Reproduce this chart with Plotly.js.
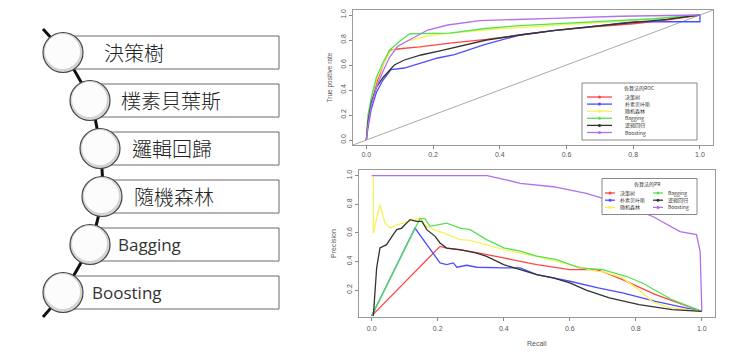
<!DOCTYPE html>
<html><head><meta charset="utf-8">
<script src="https://cdn.plot.ly/plotly-3.0.1.min.js"></script>
<style>html,body{margin:0;padding:0;background:#fff;}#chart{width:750px;height:352px;}</style>
</head><body><div id="chart"></div>
<script>
// ---------- data ----------
const methods = ['決策樹','樸素貝葉斯','邏輯回歸','隨機森林','Bagging','Boosting'];
const models = ['决策树','朴素贝叶斯','随机森林','Bagging','逻辑回归','Boosting'];
const axisTicks = [0,0.2,0.4,0.6,0.8,1.0];
const axisTickText = ['0.0','0.2','0.4','0.6','0.8','1.0'];
const prYTicks = [0.2,0.4,0.6,0.8,1.0];
const prYTickText = ['0.2','0.4','0.6','0.8','1.0'];
const diagX = [-0.04,1.04];
const diagY = [-0.04,1.04];

// ROC curves (FPR, TPR)
const rocDtFpr = [0,0.005,0.015,0.03,0.05,0.07,0.1,0.16,0.25,0.36,0.46,0.56,0.68,0.8,0.9,1];
const rocDtTpr = [0,0.15,0.3,0.45,0.6,0.72,0.73,0.745,0.775,0.805,0.84,0.875,0.905,0.93,0.96,1];
const rocNbFpr = [0,0.005,0.015,0.03,0.05,0.074,0.114,0.164,0.214,0.264,0.354,0.46,0.56,0.7,0.8,1,1];
const rocNbTpr = [0,0.1,0.25,0.38,0.48,0.563,0.576,0.616,0.656,0.683,0.763,0.84,0.875,0.915,0.946,0.946,1];
const rocRfFpr = [0,0.005,0.015,0.03,0.05,0.07,0.09,0.12,0.18,0.25,0.4,0.6,0.8,1];
const rocRfTpr = [0,0.18,0.32,0.48,0.6,0.7,0.74,0.79,0.83,0.855,0.89,0.925,0.955,1];
const rocBagFpr = [0,0.005,0.015,0.03,0.05,0.07,0.1,0.13,0.25,0.35,0.46,0.66,0.86,1];
const rocBagTpr = [0,0.2,0.34,0.5,0.62,0.72,0.79,0.85,0.855,0.89,0.915,0.94,0.97,1];
const rocLrFpr = [0,0.005,0.015,0.03,0.05,0.07,0.084,0.114,0.164,0.224,0.294,0.36,0.46,0.56,0.76,0.9,1];
const rocLrTpr = [0,0.15,0.3,0.42,0.5,0.56,0.6,0.64,0.68,0.715,0.757,0.8,0.84,0.875,0.93,0.965,1];
const rocBoFpr = [0,0.005,0.015,0.03,0.05,0.069,0.094,0.129,0.184,0.244,0.34,0.56,0.76,1];
const rocBoTpr = [0,0.12,0.28,0.42,0.55,0.66,0.75,0.80,0.88,0.92,0.955,0.973,0.99,1];

// PR curves (Recall, Precision)
const prDtRec = [0,0.207,0.227,0.298,0.4,0.5,0.6,0.68,0.70,0.76,0.86,1];
const prDtPre = [0.02,0.506,0.494,0.471,0.425,0.378,0.343,0.343,0.33,0.273,0.168,0.052];
const prNbRec = [0,0.131,0.207,0.227,0.247,0.258,0.288,0.318,0.4,0.45,0.5,0.6,0.686,0.76,0.86,1];
const prNbPre = [0.02,0.634,0.39,0.378,0.39,0.36,0.374,0.36,0.355,0.355,0.308,0.262,0.215,0.18,0.122,0.052];
const prRfRec = [0.005,0.005,0.025,0.04,0.055,0.076,0.116,0.146,0.166,0.217,0.268,0.298,0.4,0.5,0.6,0.68,0.70,0.76,0.81,0.85,0.9,1];
const prRfPre = [1.0,0.6,0.797,0.67,0.634,0.657,0.681,0.704,0.646,0.6,0.553,0.548,0.483,0.436,0.378,0.331,0.33,0.285,0.2,0.12,0.08,0.052];
const prBagRec = [0,0.131,0.146,0.161,0.177,0.227,0.268,0.298,0.348,0.4,0.45,0.5,0.56,0.63,0.68,0.70,0.77,0.82,0.91,1];
const prBagPre = [0.02,0.634,0.70,0.70,0.646,0.669,0.634,0.623,0.553,0.495,0.472,0.437,0.413,0.355,0.343,0.343,0.297,0.25,0.133,0.052];
const prLrRec = [0.005,0.015,0.025,0.045,0.065,0.076,0.091,0.116,0.136,0.152,0.167,0.192,0.207,0.227,0.268,0.318,0.348,0.4,0.45,0.5,0.55,0.6,0.65,0.72,0.81,0.91,1];
const prLrPre = [0.02,0.355,0.495,0.518,0.588,0.623,0.634,0.693,0.681,0.681,0.623,0.576,0.53,0.494,0.483,0.459,0.436,0.378,0.343,0.308,0.285,0.25,0.2,0.145,0.098,0.063,0.052];
const prBoRec = [0,0.35,0.41,0.45,0.55,0.65,0.75,0.853,0.934,0.984,0.995,1];
const prBoPre = [1.0,1.0,0.97,0.947,0.923,0.877,0.807,0.713,0.609,0.588,0.47,0.052];

// ---------- styles / layout ----------
const W = 750, H = 352;
const colors = ['#ff4545','#4d4dff','#f7f25a','#55e255','#333333','#b070f0'];
const px = x => x / W;
const py = y => 1 - y / H;

const roc = [[rocDtFpr,rocDtTpr],[rocNbFpr,rocNbTpr],[rocRfFpr,rocRfTpr],[rocBagFpr,rocBagTpr],[rocLrFpr,rocLrTpr],[rocBoFpr,rocBoTpr]];
const pr = [[prDtRec,prDtPre],[prNbRec,prNbPre],[prRfRec,prRfPre],[prBagRec,prBagPre],[prLrRec,prLrPre],[prBoRec,prBoPre]];

const traces = [];
traces.push({x: diagX, y: diagY, xaxis:'x', yaxis:'y', mode:'lines', line:{color:'#aaaaaa', width:1}, showlegend:false, hoverinfo:'skip'});
roc.forEach((d,i) => traces.push({x:d[0], y:d[1], xaxis:'x', yaxis:'y', mode:'lines', name:models[i], line:{color:colors[i], width:1.3}, showlegend:false}));
pr.forEach((d,i) => traces.push({x:d[0], y:d[1], xaxis:'x2', yaxis:'y2', mode:'lines', name:models[i], line:{color:colors[i], width:1.3}, showlegend:false}));

// diagram geometry
const rowY0 = 52.5, rowStep = 48, rowHalf = 16.5, rectRight = 279, circR = 20;
const circX = [63,90,100,102,90,63];
const textX = [102,119,130,132,116,90];
const pathX = [43].concat(circX).concat([43]);
const pathY = [29].concat(methods.map((m,i)=>rowY0+i*rowStep)).concat([317]);
traces.push({x: pathX, y: pathY, xaxis:'x3', yaxis:'y3', mode:'lines', line:{color:'#111', width:3, shape:'spline', smoothing:0.8}, showlegend:false, hoverinfo:'skip'});

const shapes = [], annotations = [];
methods.forEach((m,i) => {
  const cy = rowY0 + i*rowStep;
  shapes.push({type:'rect', xref:'x3', yref:'y3', x0:circX[i], x1:rectRight, y0:cy-rowHalf, y1:cy+rowHalf, line:{color:'#6a6a6a', width:1}, fillcolor:'#ffffff'});
});
methods.forEach((m,i) => {
  const cy = rowY0 + i*rowStep;
  shapes.push({type:'circle', xref:'x3', yref:'y3', x0:circX[i]-circR, x1:circX[i]+circR, y0:cy-circR, y1:cy+circR, line:{width:0}, fillcolor:'#d4d4d4'});
  shapes.push({type:'circle', xref:'x3', yref:'y3', x0:circX[i]-circR+2, x1:circX[i]+circR-3, y0:cy-circR+1.5, y1:cy+circR-3.5, line:{width:0}, fillcolor:'#fcfcfc'});
  shapes.push({type:'circle', xref:'x3', yref:'y3', x0:circX[i]-circR, x1:circX[i]+circR, y0:cy-circR, y1:cy+circR, line:{color:'#444', width:1.2}, fillcolor:'rgba(0,0,0,0)'});
  const latin = /^[A-Za-z]/.test(m);
  annotations.push({xref:'x3', yref:'y3', x:textX[i], y:cy, text:m, showarrow:false, xanchor:'left', yanchor:'middle',
    font: latin ? {family:'Open Sans', size:17, color:'#333'} : {family:'Noto Sans CJK TC', size:20, color:'#222', weight:300}});
});

const legFont = {family:'Noto Sans CJK SC', size:5, color:'#333'};
// ROC legend (drawn manually, compact like R)
shapes.push({type:'rect', xref:'paper', yref:'paper', x0:px(582), x1:px(697), y0:py(140), y1:py(83), line:{color:'#888', width:1}, fillcolor:'#ffffff'});
annotations.push({xref:'paper', yref:'paper', x:px(639), y:py(88), text:'各算法的ROC', showarrow:false, xanchor:'center', yanchor:'middle', font:legFont});
models.forEach((m,i) => {
  const yy = 97 + i*7.1;
  shapes.push({type:'line', xref:'paper', yref:'paper', x0:px(587), x1:px(612), y0:py(yy), y1:py(yy), line:{color:colors[i], width:1.3}});
  shapes.push({type:'circle', xref:'paper', yref:'paper', x0:px(598), x1:px(601), y0:py(yy+1.5), y1:py(yy-1.5), line:{width:0}, fillcolor:colors[i]});
  annotations.push({xref:'paper', yref:'paper', x:px(623), y:py(yy), text:m, showarrow:false, xanchor:'left', yanchor:'middle', font:legFont});
});

// PR legend (two columns)
shapes.push({type:'rect', xref:'paper', yref:'paper', x0:px(602), x1:px(697), y0:py(214.5), y1:py(178.5), line:{color:'#888', width:1}, fillcolor:'#ffffff'});
annotations.push({xref:'paper', yref:'paper', x:px(647), y:py(184), text:'各算法的PR', showarrow:false, xanchor:'center', yanchor:'middle', font:legFont});
models.forEach((m,i) => {
  const col = Math.floor(i/3), row = i%3;
  const yy = 193 + row*7.2;
  const lx0 = col ? 653 : 605, lx1 = col ? 663 : 615, tx = col ? 666 : 618;
  shapes.push({type:'line', xref:'paper', yref:'paper', x0:px(lx0), x1:px(lx1), y0:py(yy), y1:py(yy), line:{color:colors[i], width:1.3}});
  shapes.push({type:'circle', xref:'paper', yref:'paper', x0:px((lx0+lx1)/2-1.5), x1:px((lx0+lx1)/2+1.5), y0:py(yy+1.5), y1:py(yy-1.5), line:{width:0}, fillcolor:colors[i]});
  annotations.push({xref:'paper', yref:'paper', x:px(tx), y:py(yy), text:m, showarrow:false, xanchor:'left', yanchor:'middle', font:legFont});
});

const tickFont = {family:'Liberation Sans', size:7, color:'#555'};
const baseAxis = {showline:true, mirror:true, linecolor:'#9a9a9a', linewidth:1, ticks:'outside', ticklen:3, tickcolor:'#888',
  showgrid:false, zeroline:false, tickfont:tickFont, automargin:false, fixedrange:true};

const layout = {
  width:W, height:H, margin:{l:0,r:0,t:0,b:0}, paper_bgcolor:'#fff', plot_bgcolor:'#fff', showlegend:false,
  xaxis: Object.assign({}, baseAxis, {domain:[px(353), px(713.3)], range:[-0.04,1.04], anchor:'y', tickvals:axisTicks, ticktext:axisTickText}),
  yaxis: Object.assign({}, baseAxis, {domain:[py(145), py(10)], range:[-0.04,1.04], anchor:'x', tickvals:axisTicks, ticktext:axisTickText, tickangle:-90,
    title:{text:'True positive rate', font:{family:'Liberation Sans', size:6.5, color:'#555'}, standoff:6}}),
  xaxis2: Object.assign({}, baseAxis, {domain:[px(358.5), px(715)], range:[-0.04,1.04], anchor:'y2', tickvals:axisTicks, ticktext:axisTickText, ticklabelstandoff:2,
    title:{text:'Recall', font:{family:'Liberation Sans', size:7, color:'#555'}, standoff:9}}),
  yaxis2: Object.assign({}, baseAxis, {domain:[py(317), py(170)], range:[0.012,1.04], anchor:'x2', tickvals:prYTicks, ticktext:prYTickText, tickangle:-90,
    title:{text:'Precision', font:{family:'Liberation Sans', size:7, color:'#555'}, standoff:8}}),
  xaxis3: {domain:[0, 0.4], range:[0,300], visible:false, fixedrange:true, anchor:'y3'},
  yaxis3: {domain:[0, 1], range:[352,0], visible:false, fixedrange:true, anchor:'x3'},
  shapes: shapes, annotations: annotations
};
Plotly.newPlot('chart', traces, layout, {displayModeBar:false, staticPlot:true});
</script></body></html>
